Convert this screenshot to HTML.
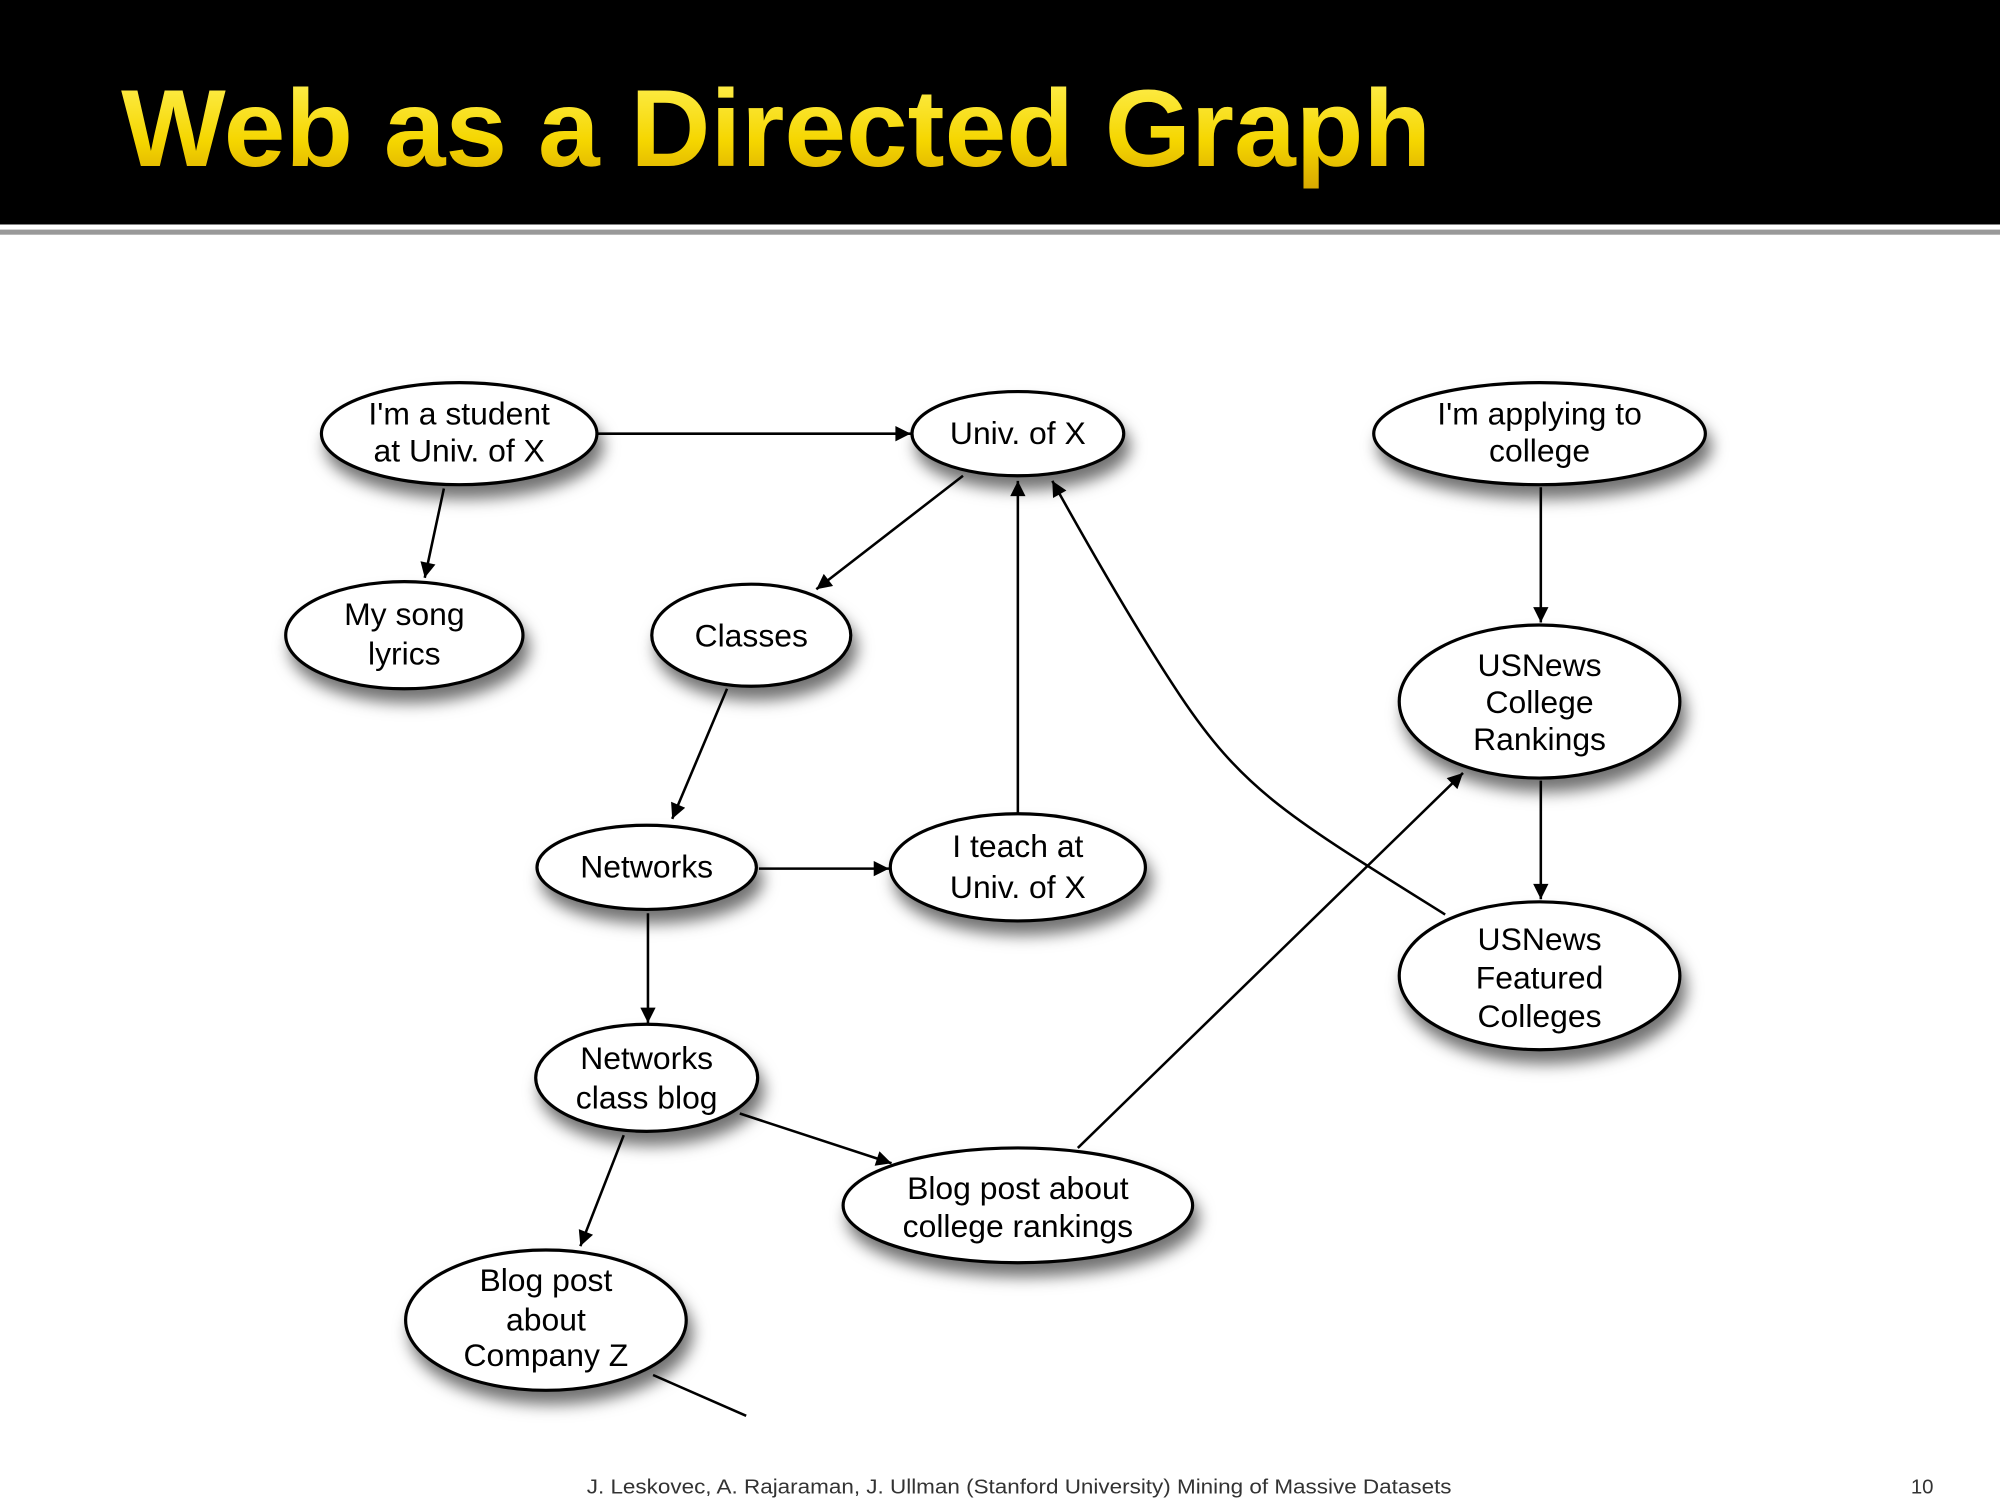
<!DOCTYPE html>
<html><head><meta charset="utf-8"><style>
html,body{margin:0;padding:0;background:#fff;}
svg{display:block;}
</style></head><body>
<svg width="2000" height="1500" viewBox="0 0 1568 1176" xmlns="http://www.w3.org/2000/svg">
<defs>
<linearGradient id="yg" x1="0" y1="0" x2="0" y2="1">
<stop offset="0" stop-color="#fff25a"/><stop offset="0.6" stop-color="#f5d600"/><stop offset="1" stop-color="#d8a800"/>
</linearGradient>
<filter id="sh" x="-30%" y="-30%" width="160%" height="170%">
<feDropShadow dx="4" dy="10" stdDeviation="6" flood-color="#000" flood-opacity="0.55"/>
</filter>
<marker id="ar" viewBox="0 0 10 10" refX="10" refY="5" markerWidth="18" markerHeight="12" markerUnits="userSpaceOnUse" orient="auto">
<path d="M0,0 L10,5 L0,10 z" fill="#000"/>
</marker>
</defs>
<rect x="0" y="0" width="1568" height="176" fill="#000"/>
<rect x="0" y="180" width="1568" height="4" fill="#999"/>
<text x="95" y="130" font-family="Liberation Sans, sans-serif" font-weight="bold" font-size="86" fill="url(#yg)" textLength="1027" lengthAdjust="spacingAndGlyphs">Web as a Directed Graph</text>

<g stroke="#000" stroke-width="2" fill="none" marker-end="url(#ar)">
<line x1="468" y1="340" x2="714" y2="340"/>
<line x1="348" y1="383" x2="333" y2="453"/>
<line x1="755" y1="373" x2="640" y2="462"/>
<line x1="1208" y1="382" x2="1208" y2="488"/>
<line x1="570" y1="540" x2="527" y2="642"/>
<line x1="798" y1="638" x2="798" y2="377"/>
<line x1="595" y1="681" x2="697" y2="681"/>
<line x1="508" y1="716" x2="508" y2="802"/>
<line x1="1208" y1="612" x2="1208" y2="705"/>
<path d="M1133,717 C1010,640 975,620 925,545 C895,500 860,440 825,377"/>
<line x1="580" y1="873" x2="699" y2="912"/>
<line x1="489" y1="890" x2="455" y2="977"/>
<line x1="845" y1="900" x2="1147" y2="606"/>
</g>
<line x1="512" y1="1078" x2="585" y2="1110" stroke="#000" stroke-width="2"/>

<g fill="#fff" stroke="#000" stroke-width="2.5" filter="url(#sh)">
<ellipse cx="360" cy="340" rx="108" ry="40"/>
<ellipse cx="798" cy="340" rx="83" ry="33"/>
<ellipse cx="1207" cy="340" rx="130" ry="40"/>
<ellipse cx="317" cy="498" rx="93" ry="42"/>
<ellipse cx="589" cy="498" rx="78" ry="40"/>
<ellipse cx="1207" cy="550" rx="110" ry="60"/>
<ellipse cx="507" cy="680" rx="86" ry="33"/>
<ellipse cx="798" cy="680" rx="100" ry="42"/>
<ellipse cx="1207" cy="765" rx="110" ry="58"/>
<ellipse cx="507" cy="845" rx="87" ry="42"/>
<ellipse cx="798" cy="945" rx="137" ry="45"/>
<ellipse cx="428" cy="1035" rx="110" ry="55"/>
</g>

<g font-family="Liberation Sans, sans-serif" font-size="25" fill="#000" text-anchor="middle">
<text x="360" y="333">I'm a student</text><text x="360" y="362">at Univ. of X</text>
<text x="798" y="348">Univ. of X</text>
<text x="1207" y="333">I'm applying to</text><text x="1207" y="362">college</text>
<text x="317" y="490">My song</text><text x="317" y="521">lyrics</text>
<text x="589" y="507">Classes</text>
<text x="1207" y="530">USNews</text><text x="1207" y="559">College</text><text x="1207" y="588">Rankings</text>
<text x="507" y="688">Networks</text>
<text x="798" y="672">I teach at</text><text x="798" y="704">Univ. of X</text>
<text x="1207" y="745">USNews</text><text x="1207" y="775">Featured</text><text x="1207" y="805">Colleges</text>
<text x="507" y="838">Networks</text><text x="507" y="869">class blog</text>
<text x="798" y="940">Blog post about</text><text x="798" y="970">college rankings</text>
<text x="428" y="1012">Blog post</text><text x="428" y="1043">about</text><text x="428" y="1071">Company Z</text>
</g>

<text x="460" y="1171" font-family="Liberation Sans, sans-serif" font-size="16" fill="#333" textLength="678" lengthAdjust="spacingAndGlyphs">J. Leskovec, A. Rajaraman, J. Ullman (Stanford University) Mining of Massive Datasets</text>
<text x="1507" y="1171" font-family="Liberation Sans, sans-serif" font-size="16" fill="#333" text-anchor="middle">10</text>
</svg>
</body></html>
